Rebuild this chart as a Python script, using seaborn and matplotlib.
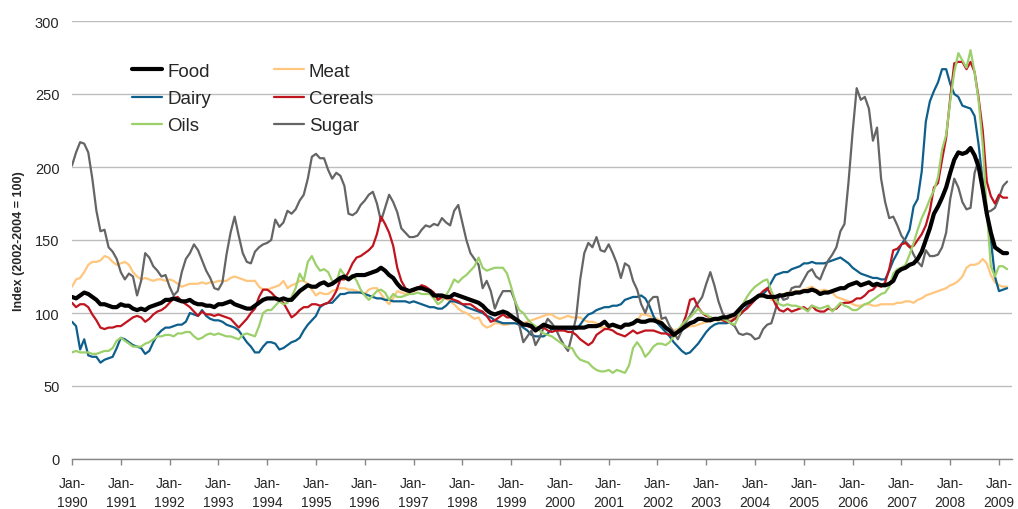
import numpy as np
import pandas as pd
import matplotlib
matplotlib.use("Agg")
import matplotlib.pyplot as plt
import seaborn as sns

# Monthly FAO price indices, Jan 1990 - Mar 2009 (rows = years)
food = [
    111,110,112,114,113,111,109,106,106,105,104,104,
    106,105,105,103,102,103,102,104,105,106,107,109,
    109,110,109,108,108,109,107,106,106,105,105,104,
    106,106,107,108,106,105,104,103,103,105,107,109,
    110,110,110,109,110,109,109,112,115,117,119,118,
    118,120,121,119,120,122,124,125,123,125,126,126,
    126,127,128,129,131,129,126,124,120,117,116,115,
    116,117,117,116,115,112,112,112,111,111,113,112,
    111,110,109,108,107,105,102,100,99,100,101,100,
    98,96,94,92,92,91,88,90,92,91,90,90,
    90,90,90,90,90,90,90,91,91,91,92,94,
    91,92,91,90,92,92,93,95,94,94,95,95,
    94,93,90,88,85,87,89,91,93,94,96,96,
    95,95,96,96,97,97,98,99,102,105,107,108,
    110,112,112,111,111,111,112,112,113,113,114,114,
    115,115,116,115,113,114,114,115,116,117,117,119,
    120,121,119,120,121,119,120,119,119,120,122,128,
    130,131,133,134,137,142,150,158,168,173,179,186,
    196,205,210,209,210,213,208,200,185,168,155,145,
    143,141,141,
]
meat = [
    118,123,124,128,133,135,135,136,139,138,135,133,
    134,135,133,128,125,123,124,123,122,123,123,122,
    123,122,120,118,119,120,120,120,121,120,121,121,
    122,122,122,124,125,124,123,122,122,122,118,116,
    116,117,118,119,122,117,119,120,122,122,120,116,
    112,114,113,113,115,116,117,117,116,116,115,114,
    113,116,117,117,113,109,106,110,115,114,113,115,
    115,116,119,117,115,113,109,110,110,108,106,103,
    101,100,98,96,97,92,90,91,93,93,92,92,
    93,93,92,93,94,95,96,97,98,99,99,97,
    96,97,98,97,97,97,95,94,94,93,90,90,
    92,91,90,90,91,92,92,94,99,99,98,97,
    96,94,91,88,88,89,90,90,91,91,92,93,
    94,95,95,95,95,96,96,98,101,105,107,109,
    110,111,112,112,109,109,112,113,114,114,115,115,
    116,117,118,116,115,116,115,114,111,110,109,108,
    106,105,105,106,106,105,105,106,106,106,106,107,
    107,108,108,107,109,110,112,113,114,115,116,117,
    119,120,122,125,131,133,133,134,137,134,126,121,
    119,118,118,
]
dairy = [
    94,91,75,82,71,70,70,66,68,69,70,76,
    83,82,80,78,77,76,72,74,80,85,88,90,
    90,91,92,92,94,100,99,98,102,98,96,95,
    95,94,92,91,90,88,84,80,77,73,73,77,
    80,80,79,75,76,78,80,81,83,88,92,95,
    98,104,106,107,107,110,113,113,114,114,114,114,
    113,112,111,110,110,109,109,108,108,108,108,107,
    108,107,106,105,104,104,103,103,105,108,108,107,
    106,104,103,102,101,100,98,97,95,94,93,93,
    93,93,92,90,88,85,84,84,84,86,89,89,
    89,89,89,89,89,92,96,99,100,102,103,104,
    104,105,105,106,109,110,111,111,112,110,105,98,
    93,90,87,84,80,77,74,72,73,76,79,83,
    87,90,92,93,93,93,94,96,98,101,104,107,
    110,112,113,116,121,126,127,128,128,130,131,132,
    134,134,135,134,134,134,135,136,137,138,136,134,
    131,129,127,126,125,124,124,123,123,129,136,141,
    147,151,157,173,178,197,231,245,252,258,267,267,
    257,250,248,242,241,240,235,215,190,171,150,125,
    115,116,117,
]
cereals = [
    107,104,106,106,104,99,95,90,89,90,90,91,
    91,93,95,97,98,97,94,96,99,101,102,104,
    107,110,111,108,106,104,101,98,101,99,99,98,
    99,98,97,96,93,90,93,96,100,103,111,116,
    116,114,111,109,107,102,97,99,102,104,104,106,
    106,105,106,107,110,115,123,123,128,134,138,139,
    141,143,146,154,166,161,155,146,131,122,117,115,
    115,117,119,118,116,114,109,111,110,110,109,108,
    106,106,106,104,102,101,98,94,95,97,99,97,
    97,95,94,92,91,90,90,90,90,88,87,88,
    88,88,87,87,85,82,80,78,80,85,87,89,
    89,88,86,85,84,86,88,86,87,88,88,88,
    87,86,86,85,84,87,91,98,109,110,104,100,
    98,97,96,96,95,94,94,96,98,101,103,106,
    109,112,115,117,112,106,102,101,103,101,102,103,
    104,102,105,102,101,101,103,102,103,106,107,107,
    108,110,110,112,115,116,119,118,121,130,143,144,
    147,148,145,146,150,154,160,170,186,189,205,220,
    247,271,272,272,267,272,265,247,225,190,180,175,
    181,179,179,
]
oils = [
    73,74,73,73,73,72,72,73,74,74,76,81,
    83,81,79,77,77,77,79,80,82,84,84,85,
    85,84,86,86,87,87,84,82,83,85,86,85,
    86,85,84,84,83,82,85,86,85,84,91,100,
    102,102,105,108,106,107,111,117,127,122,135,139,
    133,129,130,128,122,121,130,126,124,126,122,116,
    112,109,112,115,116,114,109,113,111,111,112,113,
    113,114,113,113,113,110,106,108,112,117,123,121,
    124,126,129,132,138,131,129,130,131,131,131,127,
    118,108,102,100,96,93,91,88,86,85,84,82,
    80,78,76,76,71,68,67,66,63,61,60,60,
    61,59,61,60,59,64,76,80,76,70,73,77,
    79,79,78,80,84,88,92,95,97,100,103,100,
    99,97,96,95,96,95,93,92,98,106,111,115,
    118,120,122,123,115,109,106,105,106,105,105,104,
    103,101,105,104,103,104,105,101,104,107,105,104,
    102,102,104,106,107,109,111,113,114,118,127,130,
    131,133,140,148,157,165,171,178,184,193,212,222,
    245,265,278,273,268,280,265,245,215,170,132,125,
    132,132,130,
]
sugar = [
    201,210,217,216,210,192,170,156,157,145,142,137,
    128,123,127,125,112,122,141,138,132,129,125,126,
    118,112,115,128,137,141,147,143,136,129,124,117,
    116,121,140,155,166,153,141,135,134,142,145,147,
    148,150,164,159,162,170,168,171,177,181,192,207,
    209,206,206,198,192,196,194,187,168,167,169,174,
    177,181,183,175,163,172,181,176,169,158,155,152,
    152,153,157,160,159,161,160,165,162,160,170,174,
    162,150,141,137,133,117,122,115,103,110,115,115,
    115,108,92,80,84,88,78,83,90,96,93,89,
    83,78,74,85,97,123,141,148,145,152,143,142,
    147,141,134,124,134,132,122,116,106,100,108,111,
    111,96,97,91,87,82,88,94,98,103,107,111,
    120,128,119,108,100,96,93,91,86,85,86,85,
    82,83,89,92,93,102,113,109,110,117,118,118,
    123,128,130,125,123,130,136,140,145,156,161,190,
    224,254,246,248,240,218,227,192,176,165,166,160,
    153,149,146,140,135,132,143,139,139,140,145,155,
    178,192,186,176,171,172,196,205,190,169,170,172,
    179,187,190,
]

series_names = ["Food", "Dairy", "Oils", "Meat", "Cereals", "Sugar"]
series_values = {"Food": food, "Meat": meat, "Dairy": dairy,
                 "Cereals": cereals, "Oils": oils, "Sugar": sugar}
years = list(range(1990, 2010))
tick_labels = [f"Jan-\n{y}" for y in years]

colors = {"Food": "#000000", "Meat": "#FFC67E", "Dairy": "#0E5F8C",
          "Cereals": "#C0141E", "Oils": "#9CD06A", "Sugar": "#656565"}
widths = {"Food": 3.0, "Meat": 1.6, "Dairy": 1.6, "Cereals": 1.6,
          "Oils": 1.6, "Sugar": 1.6}
zorders = {"Food": 10, "Meat": 3, "Dairy": 4, "Cereals": 5, "Oils": 6, "Sugar": 4.5}

n = len(food)
months = np.arange(n)
frames = []
for name in series_names:
    frames.append(pd.DataFrame({"month": months, "value": series_values[name], "series": name}))
df = pd.concat(frames, ignore_index=True)

sns.set_theme(style="white")
plt.rcParams["font.family"] = ["Liberation Sans", "DejaVu Sans"]

fig = plt.figure(figsize=(10.18, 5.10), dpi=100)
ax = fig.add_axes([72/1018, 1 - 460/510, (1012 - 72)/1018, (460 - 22)/510])

for name in series_names:
    sub = df[df["series"] == name]
    sns.lineplot(data=sub, x="month", y="value", ax=ax, color=colors[name],
                 linewidth=widths[name], label=name, zorder=zorders[name])

ax.set_xlim(0, 231.2)
ax.set_ylim(0, 300)
ax.set_yticks(np.arange(0, 301, 50))
ax.yaxis.grid(True, color="#BDBDBD", linewidth=1.0)
ax.xaxis.grid(False)
ax.set_axisbelow(True)
ax.set_xticks(np.arange(0, 12 * len(years), 12))
ax.set_xticklabels(tick_labels, linespacing=1.45)
for s in ["top", "right", "left"]:
    ax.spines[s].set_visible(False)
ax.spines["bottom"].set_color("#868686")
ax.spines["bottom"].set_linewidth(1.0)
ax.tick_params(axis="x", direction="out", length=4, width=1, color="#868686",
               labelsize=10, pad=8, bottom=True)
ax.tick_params(axis="y", length=0, labelsize=10.5, pad=9)
ax.set_xlabel("")
ax.set_ylabel("Index (2002-2004 = 100)", fontsize=9, fontweight="bold", labelpad=7)

handles, labels = ax.get_legend_handles_labels()
order = [labels.index(l) for l in ["Food", "Dairy", "Oils", "Meat", "Cereals", "Sugar"]]
leg = ax.legend([handles[i] for i in order], [labels[i] for i in order],
                ncol=2, frameon=False, loc="upper left",
                bbox_to_anchor=(0.0457, 0.943), fontsize=13.5,
                handlelength=1.6, handletextpad=0.28, labelspacing=0.54,
                columnspacing=3.35)

fig.savefig("out.png", dpi=100)
